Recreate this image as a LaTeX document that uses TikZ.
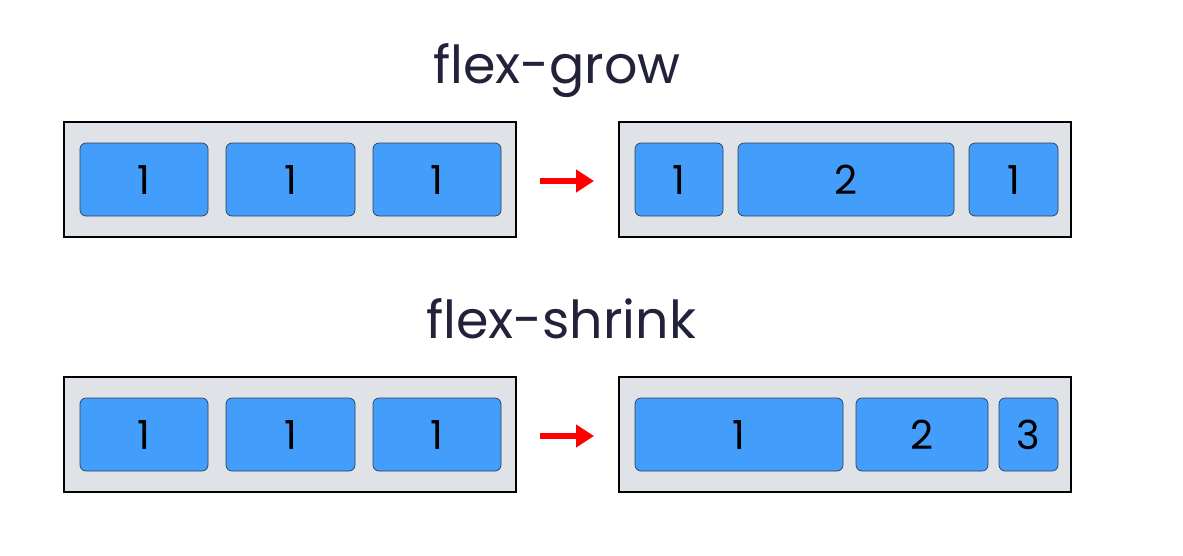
\documentclass[tikz,border=0pt]{standalone}
\usepackage{fontspec}
\setmainfont{Poppins}
\usetikzlibrary{arrows.meta}
\definecolor{boxblue}{HTML}{439DFB}
\definecolor{contgray}{HTML}{DFE2E6}
\definecolor{titlecol}{HTML}{22223A}
\definecolor{itemborder}{HTML}{2E3E55}
\begin{document}
\begin{tikzpicture}[x=1pt,y=-1pt,
  container/.style={draw=black,line width=2pt,fill=contgray},
  item/.style={draw=itemborder,line width=0.7pt,fill=boxblue,rounded corners=6pt},
  num/.style={font=\fontsize{40}{40}\selectfont,text=black},
  title/.style={font=\fontsize{52.3}{52.3}\selectfont,text=titlecol},
  flow/.style={draw=red,line width=6pt,-{Triangle[length=18pt,width=22pt]}}]
\useasboundingbox (0,0) rectangle (1183,555);
% titles
\node[title,anchor=base] (t1) at (557,83) {flex-grow};
\node[title,anchor=base] (t2) at (561,338) {flex-shrink};
% containers
\draw[container] (64,122) rectangle (516,237);
\draw[container] (619,122) rectangle (1071,237);
\draw[container] (64,377) rectangle (516,492);
\draw[container] (619,377) rectangle (1071,492);
\coordinate (a1s) at (540,181); \coordinate (a1e) at (594,181);
\coordinate (a2s) at (540,436); \coordinate (a2e) at (594,436);
\draw[flow] (a1s) -- (a1e);
\draw[flow] (a2s) -- (a2e);
% items
\foreach \a/\b/\n/\t in {80/208/g1/1,226/355/g2/1,373/501/g3/1,635/723/g4/1,738/954/g5/2,969/1058/g6/1}{
  \draw[item] (\a,143) rectangle (\b,216);
  \node[num] (\n) at ({(\a+\b)/2},180) {\t};
}
\foreach \a/\b/\n/\t in {80/208/s1/1,226/355/s2/1,373/501/s3/1,635/843/s4/1,856/988/s5/2,999/1058/s6/3}{
  \draw[item] (\a,398) rectangle (\b,471);
  \node[num] (\n) at ({(\a+\b)/2},435) {\t};
}
\end{tikzpicture}
\end{document}
